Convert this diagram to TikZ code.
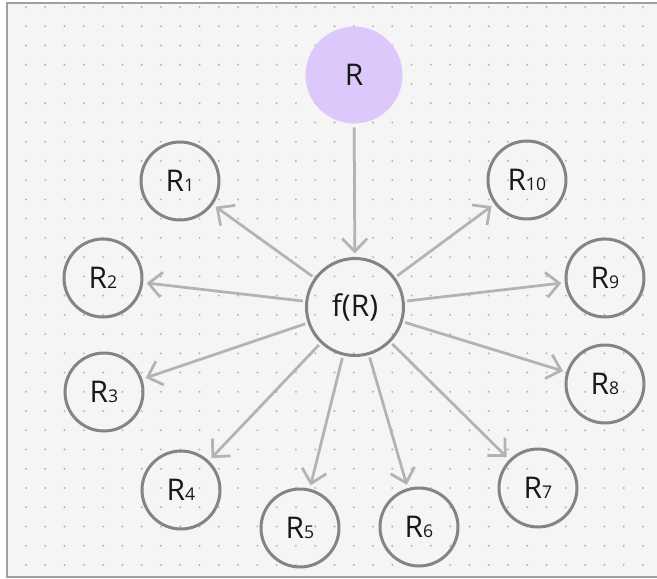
\documentclass[tikz,border=0pt]{standalone}
\usepackage{fontspec}
\setmainfont{Open Sans}
\usepackage{tikz}
\usetikzlibrary{arrows.meta}
\definecolor{paper}{HTML}{F5F5F5}
\definecolor{dotgray}{HTML}{B5B5B5}
\definecolor{framegray}{HTML}{A0A0A0}
\definecolor{ringgray}{HTML}{8A8282}
\definecolor{linkgray}{HTML}{B3B3B3}
\definecolor{lilac}{HTML}{DCC8FA}
\newcommand{\idx}[1]{{\fontsize{10}{10}\selectfont #1}}

\begin{document}
\begin{tikzpicture}[x=0.02cm,y=-0.02cm,
  ring/.style={circle,draw=ringgray,line width=0.06cm,minimum size=1.56cm,inner sep=0pt,outer sep=0pt,
    font=\fontsize{17}{20}\selectfont,text=black!90},
  hub/.style={ring,minimum size=1.94cm},
  source/.style={circle,fill=lilac,minimum size=1.94cm,inner sep=0pt,outer sep=0pt,
    font=\fontsize{17}{20}\selectfont,text=black!90},
  link/.style={draw=linkgray,line width=0.055cm,shorten <=0.08cm,shorten >=0.1cm,
    -{Straight Barb[length=0.26cm,width=0.5cm]}}]
\useasboundingbox (0,0) rectangle (657,579);
\fill[white] (0,0) rectangle (657,579);
\fill[paper] (7,3) rectangle (657,577);
\foreach \i in {0,...,32}
  \foreach \j in {0,...,29}
    \fill[dotgray] ({26+19.28*\i},{7+19.24*\j}) circle (0.022cm);
\draw[framegray,line width=0.03cm] (657,3) -- (7,3) -- (7,577) -- (657,577);

% nodes
\node[source] (r0) at (354,75) {R};
\node[hub] (fr) at (355,307) {f(R)};
\node[ring] (r1) at (180,181) {R\idx{1}};
\node[ring] (r2) at (103,278) {R\idx{2}};
\node[ring] (r3) at (104,392) {R\idx{3}};
\node[ring] (r4) at (181,490) {R\idx{4}};
\node[ring] (r5) at (300,528) {R\idx{5}};
\node[ring] (r6) at (419,527) {R\idx{6}};
\node[ring] (r7) at (538,488) {R\idx{7}};
\node[ring] (r8) at (605,384) {R\idx{8}};
\node[ring] (r9) at (605,278) {R\idx{9}};
\node[ring] (r10) at (527,180) {R\idx{10}};

% arrows
\draw[link] (r0) -- (fr);
\foreach \k in {1,...,10}
  \draw[link] (fr) -- (r\k);
\end{tikzpicture}
\end{document}
